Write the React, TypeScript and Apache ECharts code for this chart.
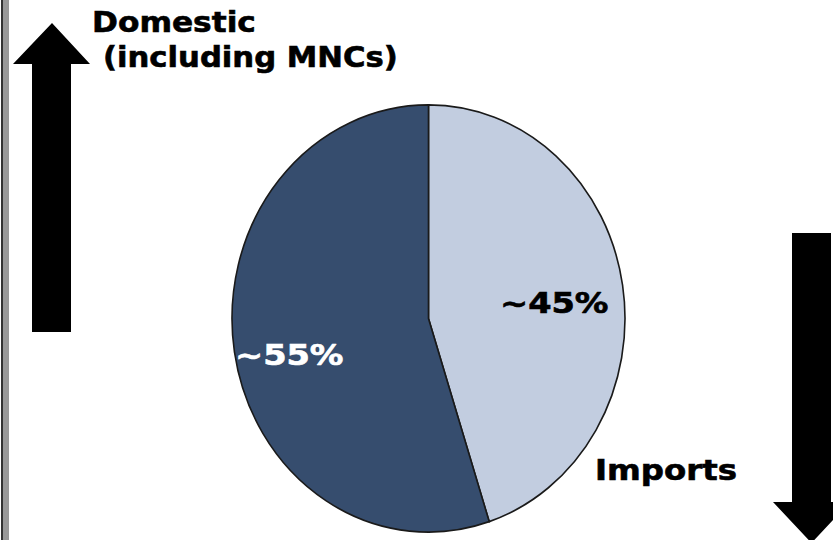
import React, { useEffect, useRef } from "react";
import * as echarts from "echarts";

// Data
const categories = ["Imports", "Domestic (including MNCs)"];
const shares = [45, 55];
const sliceLabels = ["~45%", "~55%"];
const sliceColors = ["#c2cde0", "#364d6e"];
const labelColors = ["#000000", "#ffffff"];

const FONT = "'DejaVu Sans', Verdana, sans-serif";

export default function App() {
  const ref = useRef<HTMLDivElement>(null);

  useEffect(() => {
    document.body.style.margin = "0";
    if (!ref.current) return;
    const chart = echarts.init(ref.current, null, { renderer: "svg" });

    const total = shares.reduce((a, b) => a + b, 0);
    const cx = 428.5;
    const cy = 318.5;
    const rx = 196.5;
    const ry = 213.5;

    const textStyle = (color: string) => ({
      fill: color,
      stroke: color,
      lineWidth: 0.6,
      font: `bold 28px ${FONT}`,
      align: "left",
      verticalAlign: "middle",
    });

    const option: any = {
      animation: false,
      backgroundColor: "#ffffff",
      series: [
        {
          type: "custom",
          coordinateSystem: "none",
          z: 2,
          data: categories.map((c, i) => ({ name: c, value: shares[i] })),
          renderItem: (params: any, api: any) => {
            const i = params.dataIndex;
            let before = 0;
            for (let k = 0; k < i; k++) before += shares[k];
            const v = api.value(0);
            const start = -Math.PI / 2 + (before / total) * Math.PI * 2;
            const end = start + (v / total) * Math.PI * 2;
            return {
              type: "sector",
              x: cx,
              y: cy,
              scaleY: ry / rx,
              shape: { cx: 0, cy: 0, r0: 0, r: rx, startAngle: start, endAngle: end, clockwise: true },
              style: { fill: sliceColors[i], stroke: "#1a1a1a", lineWidth: 1.6 },
            };
          },
        },
      ],
      graphic: [
        { type: "rect", shape: { x: 1, y: 0, width: 2, height: 540 }, style: { fill: "#333333" } },
        { type: "rect", shape: { x: 3, y: 0, width: 6, height: 540 }, style: { fill: "#999999" } },
        {
          type: "polygon",
          shape: { points: [[52, 23], [90, 64], [71, 64], [71, 332], [32, 332], [32, 64], [13, 64]] },
          style: { fill: "#000000" },
        },
        {
          type: "polygon",
          shape: { points: [[792, 233], [831, 233], [831, 502], [850, 502], [811.5, 543], [773, 502], [792, 502]] },
          style: { fill: "#000000" },
        },
        { type: "text", x: 92, y: 22, scaleX: 1.116, z: 10, style: { ...textStyle("#000"), text: "Domestic" } },
        { type: "text", x: 103, y: 57, scaleX: 1.096, z: 10, style: { ...textStyle("#000"), text: "(including MNCs)" } },
        { type: "text", x: 595, y: 470, scaleX: 1.157, z: 10, style: { ...textStyle("#000"), text: "Imports" } },
        { type: "text", x: 500, y: 303, scaleX: 1.2, z: 10, style: { ...textStyle(labelColors[0]), text: sliceLabels[0] } },
        { type: "text", x: 235, y: 355, scaleX: 1.2, z: 10, style: { ...textStyle(labelColors[1]), text: sliceLabels[1] } },
      ],
    };

    chart.setOption(option);
    return () => chart.dispose();
  }, []);

  return <div ref={ref} style={{ width: 833, height: 540 }} />;
}
